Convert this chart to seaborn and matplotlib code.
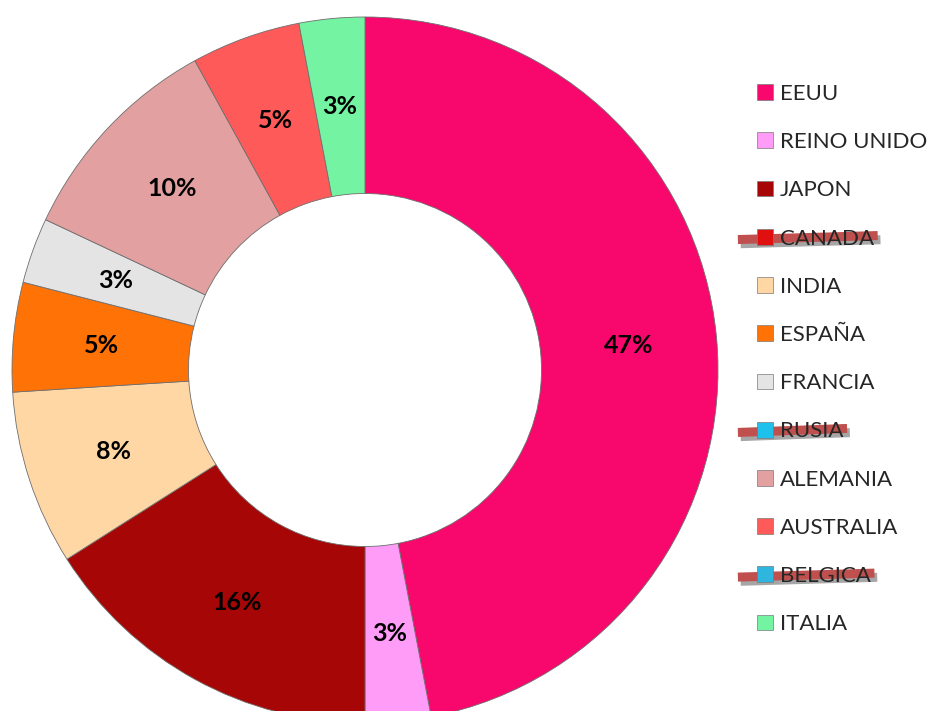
import matplotlib
matplotlib.use("Agg")
import matplotlib.pyplot as plt
import matplotlib.patheffects as pe
from matplotlib.patches import Patch
from matplotlib.lines import Line2D
import seaborn as sns

# Data (share of total, %)
countries = ["EEUU", "REINO UNIDO", "JAPON", "CANADA", "INDIA", "ESPAÑA",
             "FRANCIA", "RUSIA", "ALEMANIA", "AUSTRALIA", "BELGICA", "ITALIA"]
values = [47, 3, 16, 0, 8, 5, 3, 0, 10, 5, 0, 3]
colors = ["#F8086C", "#FF9CF8", "#A60606", "#E01010", "#FFD7A4", "#FF7206",
          "#E4E4E4", "#1EC0EC", "#E2A0A0", "#FF5A5A", "#2FB6DE", "#74F4A2"]
struck = ["CANADA", "RUSIA", "BELGICA"]

sns.set_style("white")
plt.rcParams["font.family"] = ["Lato", "DejaVu Sans"]

fig = plt.figure(figsize=(9.28, 7.11), dpi=100)
W, H = 928, 711
cx, cy, R = 365, 370, 353
ax = fig.add_axes([(cx - R) / W, (H - cy - R) / H, 2 * R / W, 2 * R / H])

# only non-zero slices are drawn; legend keeps all countries
pie_vals = [v for v in values if v > 0]
pie_cols = [c for v, c in zip(values, colors) if v > 0]
wedges, _, autotexts = ax.pie(
    pie_vals, colors=pie_cols, startangle=90, counterclock=False,
    radius=1, autopct=lambda p: f"{p:.0f}%", pctdistance=0.75,
    wedgeprops=dict(width=0.5, edgecolor="#6e6e6e", linewidth=0.6),
    textprops=dict(fontsize=18, fontweight="bold", color="black"))
ax.set_xlim(-1, 1)
ax.set_ylim(-1, 1)
ax.set_aspect("auto")
ax.axis("off")

handles = [Patch(facecolor=c, edgecolor="#7a7a7a", linewidth=0.5) for c in colors]
leg = fig.legend(handles, countries, loc="upper left",
                 bbox_to_anchor=(748 / W, 1 - 75 / H), frameon=False,
                 fontsize=16, handlelength=0.72, handleheight=0.72,
                 handletextpad=0.3, labelspacing=1.27, borderaxespad=0)

# hand-drawn style strike-through on the removed countries
fig.canvas.draw()
renderer = fig.canvas.get_renderer()
for txt, hnd in zip(leg.get_texts(), leg.legend_handles):
    if txt.get_text() not in struck:
        continue
    tb = txt.get_window_extent(renderer)
    hb = hnd.get_window_extent(renderer)
    x0 = (hb.x0 - 19) / W
    x1 = (tb.x1 + 4) / W
    ym = ((tb.y0 + tb.y1) / 2 + 1) / H
    line = Line2D([x0, x1], [ym - 2 / H, ym + 2 / H], transform=fig.transFigure,
                  color="#C0504D", linewidth=6.5, solid_capstyle="butt",
                  path_effects=[pe.SimpleLineShadow(offset=(2, -3), alpha=0.35),
                                pe.Normal()])
    fig.add_artist(line)

fig.savefig("out.png", dpi=100)
plt.close(fig)
